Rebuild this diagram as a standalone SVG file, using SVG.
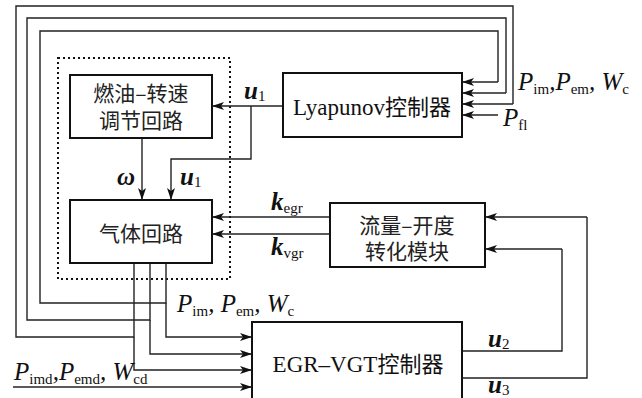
<svg xmlns="http://www.w3.org/2000/svg" width="642" height="398" viewBox="0 0 642 398">
<defs>
<marker id="arr" viewBox="0 0 12 8" refX="12" refY="4" markerWidth="12" markerHeight="8" markerUnits="userSpaceOnUse" orient="auto">
<path d="M0,0 L12,4 L0,8 L3,4 z" fill="#111"/>
</marker>
<style>
.box{fill:#fff;stroke:#111;stroke-width:2}
.ln{fill:none;stroke:#222;stroke-width:1.4}
.ar{fill:none;stroke:#222;stroke-width:1.4;marker-end:url(#arr)}
.cn{font-family:"Noto Sans CJK SC",sans-serif;font-size:21px;fill:#222;text-anchor:middle}
.lt{font-family:"Liberation Serif","Noto Sans CJK SC",serif;font-size:23px;fill:#111;text-anchor:middle}
.m{font-family:"Liberation Serif",serif;font-size:25px;font-style:italic;fill:#111}
.b{font-weight:bold}
.s{font-size:15px;font-style:normal;font-weight:normal}
</style>
</defs>
<rect x="0" y="0" width="642" height="398" fill="#fff"/>
<rect x="58" y="58" width="172" height="221" fill="none" stroke="#111" stroke-width="2" stroke-dasharray="2 3"/>
<g id="connectors">
<path class="ar" d="M283,106 H212"/>
<path class="ar" d="M251,106 V159 H171 V200"/>
<path class="ar" d="M142,138 V200"/>
<path class="ar" d="M330,217 H212"/>
<path class="ar" d="M330,234 H212"/>
<path class="ln" d="M166,263 V303 H40 V31 H498 V82"/>
<path class="ar" d="M498,82 H462"/>
<path class="ln" d="M150,263 V320 H27 V18 H506 V93"/>
<path class="ar" d="M506,93 H462"/>
<path class="ln" d="M134,263 V337 H16 V6 H513 V104"/>
<path class="ar" d="M513,104 H462"/>
<path class="ar" d="M498,115 H462"/>
<path class="ar" d="M166,303 V337 H252"/>
<path class="ar" d="M150,320 V354 H252"/>
<path class="ar" d="M134,337 V370 H252"/>
<path class="ar" d="M13,387 H252"/>
<path class="ln" d="M462,351 H562 V249"/>
<path class="ar" d="M562,249 H485"/>
<path class="ln" d="M462,378 H587 V217"/>
<path class="ar" d="M587,217 H485"/>
</g>
<g id="fuel">
<rect class="box" x="70" y="75" width="142" height="63"/>
<text class="cn" x="141" y="101">燃油–转速</text>
<text class="cn" x="141" y="128">调节回路</text>
</g>
<g id="gas">
<rect class="box" x="70" y="200" width="142" height="63"/>
<text class="cn" x="141" y="241">气体回路</text>
</g>
<g id="lyapunov">
<rect class="box" x="283" y="73" width="179" height="64"/>
<text class="lt" x="372" y="115">Lyapunov<tspan font-size="22">控制器</tspan></text>
</g>
<g id="flow">
<rect class="box" x="330" y="203" width="155" height="64"/>
<text class="cn" x="407" y="233">流量–开度</text>
<text class="cn" x="407" y="259">转化模块</text>
</g>
<g id="egrvgt">
<rect class="box" x="252" y="322" width="210" height="90"/>
<text class="lt" x="358" y="372">EGR–VGT<tspan font-size="22">控制器</tspan></text>
</g>
<g id="labels">
<text class="m" x="518" y="90">P<tspan class="s" dy="4">im</tspan><tspan dy="-4">,P</tspan><tspan class="s" dy="4">em</tspan><tspan dy="-4">, W</tspan><tspan class="s" dy="4">c</tspan></text>
<text class="m" x="503" y="126">P<tspan class="s" dy="4">fl</tspan></text>
<text class="m" x="177" y="312">P<tspan class="s" dy="4">im</tspan><tspan dy="-4">, P</tspan><tspan class="s" dy="4">em</tspan><tspan dy="-4">, W</tspan><tspan class="s" dy="4">c</tspan></text>
<text class="m" x="14" y="380">P<tspan class="s" dy="4">imd</tspan><tspan dy="-4">,P</tspan><tspan class="s" dy="4">emd</tspan><tspan dy="-4">, W</tspan><tspan class="s" dy="4">cd</tspan></text>
<text class="m" x="244" y="99"><tspan class="b">u</tspan><tspan class="s" dy="2">1</tspan></text>
<text class="m" x="180" y="185"><tspan class="b">u</tspan><tspan class="s" dy="2">1</tspan></text>
<text class="m b" x="117" y="185">ω</text>
<text class="m" x="271" y="210"><tspan class="b">k</tspan><tspan class="s" dy="3">egr</tspan></text>
<text class="m" x="271" y="255"><tspan class="b">k</tspan><tspan class="s" dy="3">vgr</tspan></text>
<text class="m" x="488" y="347"><tspan class="b">u</tspan><tspan class="s" dy="2">2</tspan></text>
<text class="m" x="488" y="393"><tspan class="b">u</tspan><tspan class="s" dy="2">3</tspan></text>
</g>
</svg>
